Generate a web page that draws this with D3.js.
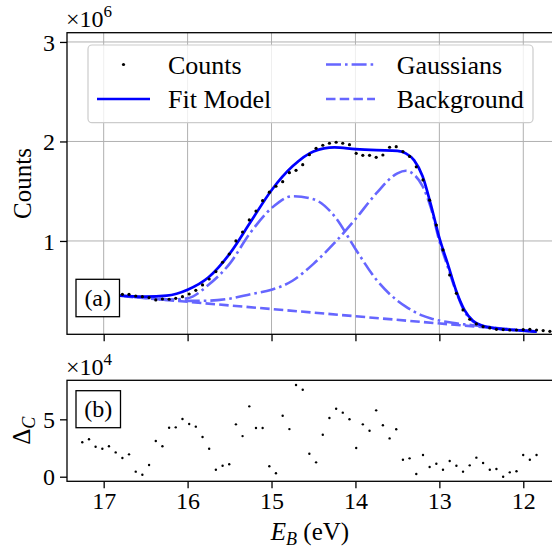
<!DOCTYPE html>
<html>
<head>
<meta charset="utf-8">
<script src="https://cdn.jsdelivr.net/npm/d3@7"></script>
<style>
body { margin: 0; background: #fff; }
svg { font-family: "Liberation Serif", "DejaVu Serif", serif; }
</style>
</head>
<body>
<svg id="chart"></svg>
<script>
// binding energy of each measured point (eV)
const energy = [17.255,17.175,17.096,17.016,16.937,16.857,16.777,16.698,16.618,16.539,16.459,16.379,16.300,16.220,16.141,16.061,15.981,15.902,15.822,15.743,15.663,15.583,15.504,15.424,15.345,15.265,15.185,15.106,15.026,14.947,14.867,14.787,14.708,14.628,14.549,14.469,14.389,14.310,14.230,14.151,14.071,13.991,13.912,13.832,13.753,13.673,13.593,13.514,13.434,13.355,13.275,13.195,13.116,13.036,12.957,12.877,12.797,12.718,12.638,12.559,12.479,12.399,12.320,12.240,12.161,12.081,12.001,11.922,11.842,11.763,11.683];
// counts, x1e6
const counts = [0.48,0.47,0.47,0.46,0.47,0.46,0.464,0.464,0.447,0.44,0.43,0.407,0.417,0.414,0.424,0.44,0.467,0.504,0.558,0.618,0.692,0.786,0.869,1.0,1.09,1.211,1.30,1.405,1.49,1.55,1.596,1.686,1.71,1.767,1.867,1.931,1.962,1.982,1.992,1.982,1.968,1.881,1.861,1.861,1.841,1.864,1.942,1.948,1.898,1.85,1.745,1.613,1.41,1.16,0.91,0.658,0.474,0.307,0.213,0.166,0.139,0.126,0.112,0.109,0.105,0.105,0.109,0.112,0.105,0.099,0.092];
// |counts - fit|, x1e4 (only over the fit range)
const residual = [3.0,3.26,2.61,2.44,2.65,2.12,1.63,1.95,0.44,0.17,1.02,3.11,2.65,4.27,4.30,5.03,4.59,4.36,3.46,2.44,0.61,0.96,1.08,4.56,3.54,6.13,4.24,4.24,0.91,0.3,5.31,4.15,7.99,7.58,2.0,1.25,3.66,5.11,5.92,5.58,5.0,2.5,4.56,4.01,5.78,4.48,3.34,4.13,1.48,1.60,0.24,1.89,0.85,1.13,0.61,1.37,0.96,0.44,0.99,1.66,1.19,0.61,0.67,0.0,0.38,0.47,1.89,1.48,1.89];

// model curves read at these energies, x1e6
const modelEnergy = [17.25,17.0,16.75,16.5,16.25,16.0,15.75,15.5,15.25,15.0,14.75,14.5,14.25,14.0,13.75,13.5,13.4,13.3,13.2,13.1,13.0,12.9,12.8,12.7,12.6,12.5,12.25,12.0,11.84];
const fitModel = [0.48,0.462,0.448,0.44,0.45,0.51,0.635,0.87,1.19,1.51,1.75,1.90,1.94,1.923,1.912,1.905,1.88,1.81,1.65,1.36,1.03,0.77,0.50,0.305,0.199,0.152,0.114,0.099,0.088];
const gauss1 = [0.48,0.463,0.446,0.427,0.41,0.425,0.56,0.77,1.085,1.33,1.45,1.42,1.25,0.92,0.61,0.40,0.34,0.29,0.25,0.222,0.20,0.185,0.172,0.162,0.153,0.145,0.12,0.102,0.09];
const gauss2 = [0.482,0.465,0.448,0.43,0.414,0.398,0.40,0.42,0.465,0.51,0.60,0.77,0.98,1.22,1.48,1.68,1.705,1.665,1.55,1.33,1.0,0.74,0.49,0.29,0.19,0.147,0.112,0.10,0.088];
const bgEnergy = [17.25, 11.84];
const background = [0.479, 0.087];

const xTicks = [17, 16, 15, 14, 13, 12];
const countTicks = [1, 2, 3];
const resTicks = [0, 5];

const svgWidth = 552;
const svgHeight = 548;
const left = 67, right = 553.5;
const top1 = { top: 32.7, bottom: 334.3 };
const top2 = { top: 380.3, bottom: 481.3 };
const blue = "#0000ff";
const lightBlue = "#6666ff";

const svg = d3.select("#chart")
    .attr("width", svgWidth)
    .attr("height", svgHeight);

const x = d3.scaleLinear().domain([17.437, 11.64]).range([left, right]);
const yTop = d3.scaleLinear().domain([0.062, 3.093]).range([top1.bottom, top1.top]);
const yBot = d3.scaleLinear().domain([-0.4, 8.4]).range([top2.bottom, top2.top]);

svg.append("defs").append("clipPath").attr("id", "clipTop")
    .append("rect")
    .attr("x", left).attr("y", top1.top)
    .attr("width", right - left).attr("height", top1.bottom - top1.top);

// grid for top panel
const grid = svg.append("g").attr("stroke", "#b0b0b0").attr("stroke-width", 1);
grid.selectAll(".vg").data(xTicks).enter().append("line")
    .attr("x1", d => x(d)).attr("x2", d => x(d))
    .attr("y1", top1.top).attr("y2", top1.bottom);
grid.selectAll(".hg").data(countTicks).enter().append("line")
    .attr("x1", left).attr("x2", right)
    .attr("y1", d => yTop(d)).attr("y2", d => yTop(d));

function styleAxis(g) {
    g.select(".domain").remove();
    g.selectAll(".tick line").attr("stroke", "#000").attr("stroke-width", 1.3);
    g.selectAll(".tick text").attr("fill", "#000").style("font-family", "Liberation Serif, serif");
}

// top panel axes
svg.append("g")
    .attr("transform", `translate(${left},0)`)
    .call(d3.axisLeft(yTop).tickValues(countTicks).tickSize(7).tickPadding(5).tickFormat(d3.format("d")))
    .call(styleAxis)
    .selectAll(".tick text").style("font-size", "24px").attr("dy", "0.34em");

svg.append("g")
    .attr("transform", `translate(0,${top1.bottom})`)
    .call(d3.axisBottom(x).tickValues(xTicks).tickSize(7).tickFormat(""))
    .call(styleAxis);

// lines in top panel
const plot = svg.append("g").attr("clip-path", "url(#clipTop)");

const line = d3.line()
    .x(d => x(d[0]))
    .y(d => yTop(d[1]))
    .curve(d3.curveMonotoneX);

plot.append("path")
    .datum(d3.zip(bgEnergy, background))
    .attr("d", line)
    .attr("fill", "none")
    .attr("stroke", lightBlue)
    .attr("stroke-width", 2.6)
    .attr("stroke-dasharray", "9.5,4.2");

[gauss1, gauss2].forEach(g => {
    plot.append("path")
        .datum(d3.zip(modelEnergy, g))
        .attr("d", line)
        .attr("fill", "none")
        .attr("stroke", lightBlue)
        .attr("stroke-width", 2.6)
        .attr("stroke-dasharray", "15,4,2.6,4");
});

plot.append("path")
    .datum(d3.zip(modelEnergy, fitModel))
    .attr("d", line)
    .attr("fill", "none")
    .attr("stroke", blue)
    .attr("stroke-width", 2.7);

plot.selectAll(".dot")
    .data(d3.zip(energy, counts))
    .enter().append("circle")
    .attr("cx", d => x(d[0]))
    .attr("cy", d => yTop(d[1]))
    .attr("r", 1.6)
    .attr("fill", "#000");

svg.append("rect")
    .attr("x", left).attr("y", top1.top)
    .attr("width", right - left).attr("height", top1.bottom - top1.top)
    .attr("fill", "none").attr("stroke", "#000").attr("stroke-width", 1.3);

// legend
const legend = svg.append("g");
legend.append("rect")
    .attr("x", 88).attr("y", 45)
    .attr("width", 445).attr("height", 77.7)
    .attr("rx", 4)
    .attr("fill", "#fff").attr("fill-opacity", 0.8)
    .attr("stroke", "#cccccc").attr("stroke-width", 1.2);

const legendItems = [
    { label: "Counts", col: 0, row: 0, type: "dot" },
    { label: "Fit Model", col: 0, row: 1, type: "fit" },
    { label: "Gaussians", col: 1, row: 0, type: "gauss" },
    { label: "Background", col: 1, row: 1, type: "bg" }
];
const colX = [97, 326], handleW = [53, 49], textX = [168, 396.7], rowY = [64.5, 99];

legendItems.forEach(it => {
    const hx = colX[it.col], hy = rowY[it.row];
    if (it.type === "dot") {
        legend.append("circle").attr("cx", hx + handleW[0] / 2).attr("cy", hy).attr("r", 1.6).attr("fill", "#000");
    } else {
        const l = legend.append("line")
            .attr("x1", hx).attr("x2", hx + handleW[it.col])
            .attr("y1", hy).attr("y2", hy)
            .attr("stroke-width", 2.6);
        if (it.type === "fit") l.attr("stroke", blue);
        if (it.type === "gauss") l.attr("stroke", lightBlue).attr("stroke-dasharray", "15,4,2.6,4");
        if (it.type === "bg") l.attr("stroke", lightBlue).attr("stroke-dasharray", "9.5,4.2");
    }
    legend.append("text")
        .attr("x", textX[it.col]).attr("y", hy + 9)
        .style("font-size", "26px")
        .text(it.label);
});

// (a) label
svg.append("rect")
    .attr("x", 76).attr("y", 279.3).attr("width", 43.5).attr("height", 37.4)
    .attr("fill", "#fff").attr("stroke", "#000").attr("stroke-width", 1.3);
svg.append("text")
    .attr("x", 97.7).attr("y", 306)
    .attr("text-anchor", "middle")
    .style("font-size", "24px")
    .text("(a)");

// multiplier and y label, top
const mult1 = svg.append("text").attr("x", 66).attr("y", 27).style("font-size", "24px");
mult1.append("tspan").text("×10");
mult1.append("tspan").attr("dy", -10).style("font-size", "17px").text("6");

svg.append("text")
    .attr("transform", `translate(31,${(top1.top + top1.bottom) / 2}) rotate(-90)`)
    .attr("text-anchor", "middle")
    .style("font-size", "25px")
    .text("Counts");

// bottom panel
svg.append("g")
    .attr("transform", `translate(${left},0)`)
    .call(d3.axisLeft(yBot).tickValues(resTicks).tickSize(7).tickPadding(5).tickFormat(d3.format("d")))
    .call(styleAxis)
    .selectAll(".tick text").style("font-size", "24px").attr("dy", "0.34em");

svg.append("g")
    .attr("transform", `translate(0,${top2.bottom})`)
    .call(d3.axisBottom(x).tickValues(xTicks).tickSize(7).tickPadding(4).tickFormat(d3.format("d")))
    .call(styleAxis)
    .selectAll(".tick text").style("font-size", "24px");

svg.selectAll(".res")
    .data(d3.zip(energy.slice(0, residual.length), residual))
    .enter().append("circle")
    .attr("cx", d => x(d[0]))
    .attr("cy", d => yBot(d[1]))
    .attr("r", 1.2)
    .attr("fill", "#000");

svg.append("rect")
    .attr("x", left).attr("y", top2.top)
    .attr("width", right - left).attr("height", top2.bottom - top2.top)
    .attr("fill", "none").attr("stroke", "#000").attr("stroke-width", 1.3);

svg.append("rect")
    .attr("x", 76).attr("y", 390.7).attr("width", 44.5).attr("height", 37)
    .attr("fill", "#fff").attr("stroke", "#000").attr("stroke-width", 1.3);
svg.append("text")
    .attr("x", 98.3).attr("y", 417)
    .attr("text-anchor", "middle")
    .style("font-size", "24px")
    .text("(b)");

const mult2 = svg.append("text").attr("x", 66).attr("y", 375).style("font-size", "24px");
mult2.append("tspan").text("×10");
mult2.append("tspan").attr("dy", -10).style("font-size", "17px").text("4");

const dLabel = svg.append("text")
    .attr("transform", `translate(30,${(top2.top + top2.bottom) / 2}) rotate(-90)`)
    .attr("text-anchor", "middle")
    .style("font-size", "25px");
dLabel.append("tspan").text("Δ");
dLabel.append("tspan").attr("dy", 5).style("font-size", "18px").style("font-style", "italic").text("C");

// x label
const xl = svg.append("text")
    .attr("x", 310).attr("y", 540)
    .attr("text-anchor", "middle")
    .style("font-size", "25px");
xl.append("tspan").style("font-style", "italic").text("E");
xl.append("tspan").attr("dy", 5).style("font-size", "18px").style("font-style", "italic").text("B");
xl.append("tspan").attr("dy", -5).text(" (eV)");
</script>
</body>
</html>
